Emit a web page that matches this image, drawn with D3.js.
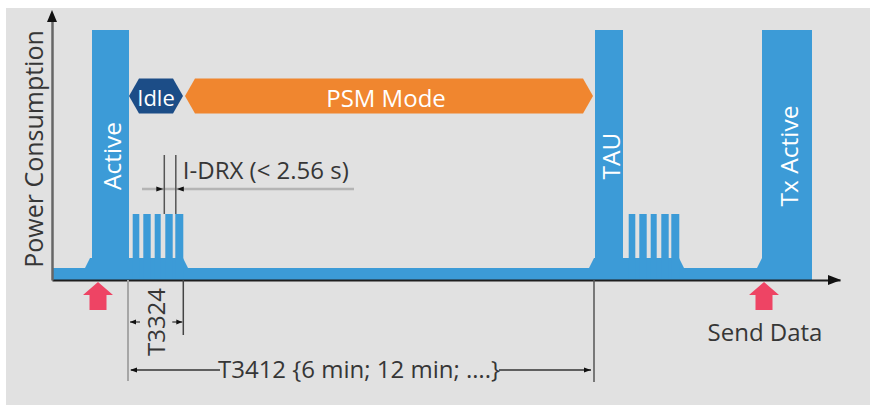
<!DOCTYPE html>
<html>
<head>
<meta charset="utf-8">
<script src="https://cdn.jsdelivr.net/npm/d3@7"></script>
<style>
  body { margin: 0; background: #fff; }
  svg text { font-family: "Open Sans", sans-serif; }
</style>
</head>
<body>
<div id="chart"></div>
<script>
// time runs in arbitrary units along x, power is % of peak current
var blockLabels = ["Active", "TAU", "Tx Active"];
var blockStart = [40, 543, 710];
var blockEnd = [77, 571, 760];
var blockPower = [100, 100, 100];

// raised shelf under each burst (with sloped feet)
var shelfStart = [33, 537, 705];
var shelfEnd = [136, 632, 760];
var shelfPower = 8.8;
var basePower = 4.8;

// paging pulses (I-DRX) after Active and after TAU
var drxStart1 = [80.7, 91.3, 102.7, 113.3, 123.3];
var drxEnd1 = [87.3, 98.7, 108.7, 120.7, 131.3];
var drxStart2 = [576.7, 587.3, 598.7, 609.3, 619.3];
var drxEnd2 = [583.3, 594.7, 604.7, 616.7, 627.3];
var drxPower = 26.4;

var phaseLabels = ["Idle", "PSM Mode"];
var phaseStart = [77, 133];
var phaseEnd = [131, 541];
var phaseColors = ["#1c4d87", "#f0862f"];

var sendTimes = [46, 712];

var yLabel = "Power Consumption";
var drxLabel = "I-DRX (< 2.56 s)";
var t3324Label = "T3324";
var t3412Label = "T3412 {6 min; 12 min; ….}";
var sendLabel = "Send Data";

var svgWidth = 870;
var svgHeight = 405;

var svg = d3.select("#chart")
  .append("svg")
  .attr("width", svgWidth)
  .attr("height", svgHeight);

// grey panel
svg.append("rect")
  .attr("x", 6)
  .attr("y", 8)
  .attr("width", svgWidth - 6)
  .attr("height", svgHeight - 8)
  .attr("fill", "#e1e1e1");

var x = d3.scaleLinear().domain([0, 788]).range([52, 840]);
var y = d3.scaleLinear().domain([0, 100]).range([280, 30]);

var blue = "#3c9bd7";
var ink = "#363636";
var plot = svg.append("g");

// baseline current
plot.append("rect")
  .attr("x", x(0))
  .attr("y", y(basePower))
  .attr("width", x(blockEnd[2]) - x(0))
  .attr("height", y(0) - y(basePower))
  .attr("fill", blue);

// shelves
var slope = 5;
plot.selectAll(".shelf")
  .data(shelfStart)
  .enter()
  .append("path")
  .attr("class", "shelf")
  .attr("d", (d, i) => "M" + x(d) + "," + y(basePower)
    + "L" + x(d + slope) + "," + y(shelfPower)
    + "L" + x(shelfEnd[i] - slope) + "," + y(shelfPower)
    + "L" + x(shelfEnd[i]) + "," + y(basePower) + "Z")
  .attr("fill", blue);

// big blocks
plot.selectAll(".block")
  .data(blockStart)
  .enter()
  .append("rect")
  .attr("class", "block")
  .attr("x", d => x(d))
  .attr("y", (d, i) => y(blockPower[i]))
  .attr("width", (d, i) => x(blockEnd[i]) - x(d))
  .attr("height", (d, i) => y(0) - y(blockPower[i]))
  .attr("fill", blue);

// pulses
var pulses = drxStart1.map((d, i) => [d, drxEnd1[i]])
  .concat(drxStart2.map((d, i) => [d, drxEnd2[i]]));
plot.selectAll(".pulse")
  .data(pulses)
  .enter()
  .append("rect")
  .attr("class", "pulse")
  .attr("x", d => x(d[0]))
  .attr("y", y(drxPower))
  .attr("width", d => x(d[1]) - x(d[0]))
  .attr("height", y(0) - y(drxPower))
  .attr("fill", blue);

// block labels
plot.selectAll(".blabel")
  .data(blockLabels)
  .enter()
  .append("text")
  .attr("class", "blabel")
  .attr("transform", (d, i) => `translate(${x((blockStart[i] + blockEnd[i]) / 2) + 1}, 156) rotate(-90)`)
  .attr("text-anchor", "middle")
  .attr("dominant-baseline", "central")
  .attr("font-size", 24.5)
  .attr("fill", "#fff")
  .text(d => d);

// phase banners
var bandY = 96, bandH = 17.5, tip = 10;
plot.selectAll(".phase")
  .data(phaseLabels)
  .enter()
  .append("path")
  .attr("class", "phase")
  .attr("d", (d, i) => {
    var a = x(phaseStart[i]), b = x(phaseEnd[i]);
    return "M" + a + "," + bandY + "L" + (a + tip) + "," + (bandY - bandH)
      + "L" + (b - tip) + "," + (bandY - bandH) + "L" + b + "," + bandY
      + "L" + (b - tip) + "," + (bandY + bandH) + "L" + (a + tip) + "," + (bandY + bandH) + "Z";
  })
  .attr("fill", (d, i) => phaseColors[i]);

plot.selectAll(".plabel")
  .data(phaseLabels)
  .enter()
  .append("text")
  .attr("class", "plabel")
  .attr("x", (d, i) => x((phaseStart[i] + phaseEnd[i]) / 2) - (i ? 3 : 0))
  .attr("y", bandY + 1)
  .attr("text-anchor", "middle")
  .attr("dominant-baseline", "central")
  .attr("font-size", (d, i) => i ? 24 : 22)
  .attr("fill", "#fff")
  .text(d => d);

// axes
var xAxis = d3.axisBottom(x).tickValues([]).tickSizeOuter(0);
svg.append("g")
  .attr("transform", `translate(0, ${y(0)})`)
  .call(xAxis)
  .call(g => g.select(".domain").attr("stroke", "#1e1e1e").attr("stroke-width", 2));

var yAxisScale = y.copy().domain([0, 104]).range([y(0), y(104)]);
var yAxis = d3.axisLeft(yAxisScale).tickValues([]).tickSizeOuter(0);
svg.append("g")
  .attr("transform", `translate(${x(0)}, 0)`)
  .call(yAxis)
  .call(g => g.select(".domain").attr("stroke", "#666").attr("stroke-width", 2.5));

// axis arrowheads
svg.append("path")
  .attr("d", `M${x(788) + 1},${y(0)}L${x(788) - 12},${y(0) - 5}L${x(788) - 12},${y(0) + 5}Z`)
  .attr("fill", "#111");
svg.append("path")
  .attr("d", `M${x(0)},10L${x(0) - 5},22L${x(0) + 5},22Z`)
  .attr("fill", "#111");

svg.append("text")
  .attr("transform", `translate(33, 149) rotate(-90)`)
  .attr("text-anchor", "middle")
  .attr("dominant-baseline", "central")
  .attr("font-size", 25)
  .attr("fill", ink)
  .text(yLabel);

// send-data arrows
svg.selectAll(".send")
  .data(sendTimes)
  .enter()
  .append("path")
  .attr("class", "send")
  .attr("d", d => {
    var c = x(d);
    return `M${c},282L${c + 15},295L${c + 8.5},295L${c + 8.5},310L${c - 8.5},310L${c - 8.5},295L${c - 15},295Z`;
  })
  .attr("fill", "#ee4464");

svg.append("text")
  .attr("x", x(sendTimes[1]) + 1)
  .attr("y", 341)
  .attr("text-anchor", "middle")
  .attr("font-size", 24)
  .attr("fill", ink)
  .text(sendLabel);

// small arrowhead helper: tip at (tx, ty), dir = +1 points right, -1 left
function arrowHead(g, tx, ty, dir, len, half) {
  g.append("path")
    .attr("d", `M${tx},${ty}L${tx - dir * len},${ty - half}L${tx - dir * len},${ty + half}Z`)
    .attr("fill", "#111");
}

var ann = svg.append("g");

// I-DRX
var drxA = x(drxStart1[3]) - 1, drxB = x(drxStart1[4]) + 0.5;
ann.append("line")
  .attr("x1", 142).attr("x2", 354).attr("y1", 189).attr("y2", 189)
  .attr("stroke", "#b4b4b4").attr("stroke-width", 2.5);
[drxA, drxB].forEach(v => {
  ann.append("line")
    .attr("x1", v).attr("x2", v).attr("y1", 155).attr("y2", y(drxPower))
    .attr("stroke", "#555").attr("stroke-width", 1.5);
});
arrowHead(ann, drxA - 1, 189, 1, 7, 2.5);
arrowHead(ann, drxB + 1, 189, -1, 7, 2.5);
ann.append("text")
  .attr("x", drxB + 7)
  .attr("y", 179)
  .attr("font-size", 24)
  .attr("fill", ink)
  .text(drxLabel);

// T3324
var t0 = x(blockEnd[0]) - 1, t1 = x(drxEnd1[4]);
ann.append("line")
  .attr("x1", t0).attr("x2", t0).attr("y1", y(0)).attr("y2", 381)
  .attr("stroke", "#a6a6a6").attr("stroke-width", 2);
ann.append("line")
  .attr("x1", t1).attr("x2", t1).attr("y1", y(0)).attr("y2", 335)
  .attr("stroke", "#444").attr("stroke-width", 1.5);
ann.append("line")
  .attr("x1", t0 + 2).attr("x2", t0 + 12).attr("y1", 322).attr("y2", 322)
  .attr("stroke", "#333").attr("stroke-width", 1.2);
ann.append("line")
  .attr("x1", t1 - 11).attr("x2", t1 - 1).attr("y1", 322).attr("y2", 322)
  .attr("stroke", "#333").attr("stroke-width", 1.2);
arrowHead(ann, t0 + 2, 322, -1, 6, 2.5);
arrowHead(ann, t1 - 1, 322, 1, 6, 2.5);
ann.append("text")
  .attr("transform", `translate(${(t0 + t1) / 2}, 322) rotate(-90)`)
  .attr("text-anchor", "middle")
  .attr("dominant-baseline", "central")
  .attr("font-size", 24)
  .attr("fill", ink)
  .text(t3324Label);

// T3412
var u1 = x(blockStart[1]) - 1;
ann.append("line")
  .attr("x1", u1).attr("x2", u1).attr("y1", y(0)).attr("y2", 382)
  .attr("stroke", "#555").attr("stroke-width", 1.5);
var tCenter = (t0 + u1) / 2 - 2;
var tText = ann.append("text")
  .attr("x", tCenter)
  .attr("y", 378)
  .attr("text-anchor", "middle")
  .attr("font-size", 24)
  .attr("fill", ink)
  .text(t3412Label);
var tw = tText.node().getComputedTextLength();
var textL = tCenter - tw / 2, textR = tCenter + tw / 2;
ann.append("line")
  .attr("x1", t0 + 3).attr("x2", textL + 2).attr("y1", 370).attr("y2", 370)
  .attr("stroke", "#333").attr("stroke-width", 1.3);
ann.append("line")
  .attr("x1", textR - 1).attr("x2", u1 - 3).attr("y1", 370).attr("y2", 370)
  .attr("stroke", "#333").attr("stroke-width", 1.3);
arrowHead(ann, t0 + 2, 370, -1, 7, 2.5);
arrowHead(ann, u1 - 3, 370, 1, 7, 2.5);
</script>
</body>
</html>
